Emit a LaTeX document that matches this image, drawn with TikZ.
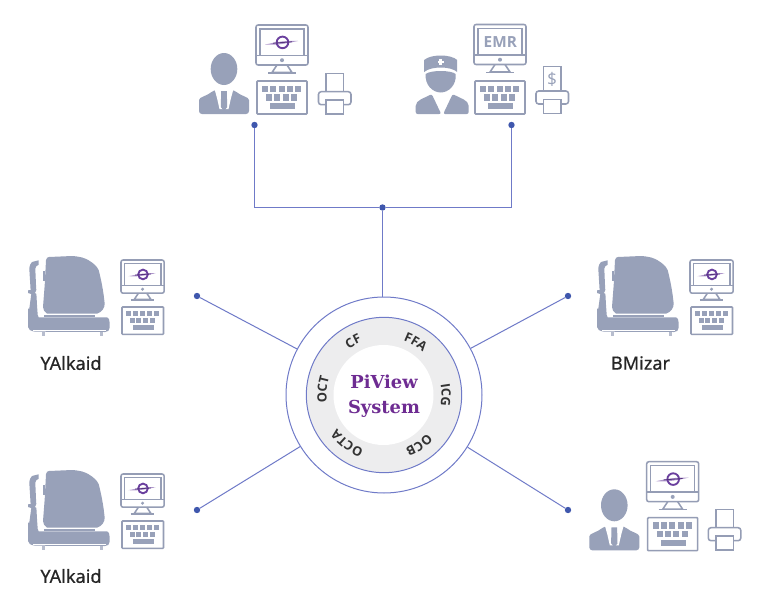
\documentclass[tikz,border=0pt]{standalone}
\usepackage{fontspec}
\usetikzlibrary{decorations.text}
\setmainfont{Noto Sans}
\newfontfamily\titlefont{DejaVu Serif}
\newfontfamily\wedgefont{Open Sans}
\newfontfamily\capfont[FakeBold=0.5]{Noto Sans}
\definecolor{icon}{HTML}{98A1B9}
\definecolor{iconline}{HTML}{959DB5}
\definecolor{wire}{HTML}{6F7AC8}
\definecolor{dotc}{HTML}{3F57AD}
\definecolor{ringfill}{HTML}{EDEDEE}
\definecolor{logoc}{HTML}{6A3F9E}
\definecolor{titlec}{HTML}{6E2C92}
\tikzset{
  wireline/.style={draw=wire,line width=.75pt},
  hubdot/.style={circle,fill=dotc,inner sep=0pt,minimum size=4.8pt},
  iconstroke/.style={draw=iconline,line width=1.15pt},
  caption/.style={font=\capfont\fontsize{13.6}{15}\selectfont,text=black!85,inner sep=0pt},
  hubtitle/.style={font=\titlefont\bfseries\fontsize{13.4}{15}\selectfont,text=titlec,inner sep=0pt},
  hubword/.style={decorate,decoration={text along path,text align=center,text={|\wedgefont\bfseries\fontsize{9.6}{12}\selectfont\color{black!80}|#1}}},
  monitor/.pic={
    \draw[iconstroke,rounded corners=1.6pt] (0,0) rectangle (52,40);
    \draw[iconstroke] (0,30.5) -- (52,30.5);
    \draw[iconstroke] (4,30.5) -- (4,4) -- (48,4) -- (48,30.5);
    \fill[icon] (26,35.2) circle[radius=2];
    \draw[iconstroke] (21,40) -- (16,47.5) -- (36,47.5) -- (31,40);
    \draw[iconstroke] (12,48) -- (40,48);
  },
  eyelogo/.pic={
    \fill[logoc!55] (9,19.5) .. controls (18,18) and (24,15.5) .. (42,16) .. controls (32,17.8) and (24,20.4) .. (9,19.5) -- cycle;
    \draw[logoc,line width=1.4pt] (26.5,17.4) circle[radius=5.8];
    \draw[logoc!80!black,line width=.6pt] (17,18.2) -- (36,16.8);
  },
  keyboard/.pic={
    \draw[iconstroke,rounded corners=.6pt] (0,0) rectangle (50,33);
    \foreach \k in {0,...,4} \fill[icon] (5.2+\k*8.2,4.7) rectangle ++(6,6.4);
    \foreach \k in {0,...,3} \fill[icon] (9.2+\k*8.2,13.3) rectangle ++(6,6.4);
    \fill[icon] (13.3,22) rectangle (38.3,28);
  },
  printer/.pic={
    \draw[iconstroke] (7.5,0) -- (7.5,-#1) -- (25,-#1) -- (25,0);
    \draw[iconstroke,rounded corners=2pt] (7.5,13) -- (0,13) -- (0,0) -- (32.5,0) -- (32.5,13) -- (25,13);
    \draw[iconstroke] (7.5,8.5) rectangle (25,22.5);
  },
  person/.pic={
    \fill[icon] (25,16) ellipse[x radius=13.3,y radius=16];
    \fill[icon,rounded corners=2.2pt] (0,61) -- (0,50) .. controls (0,44) and (8,43) .. (15,37) -- (35,37) .. controls (42,43) and (50,44) .. (50,50) -- (50,61) -- cycle;
    \fill[white] (15.5,36) -- (18,45) -- (20.5,56) -- (29.5,56) -- (32,45) -- (34.5,36) -- cycle;
    \fill[icon] (22.2,38) -- (27.8,38) -- (28.2,54) -- (25,58) -- (21.8,54) -- cycle;
  },
  nurse/.pic={
    \fill[icon] (8.5,5) .. controls (15,-1) and (35,-1) .. (41.5,5) -- (41.5,17) .. controls (35,11) and (15,11) .. (8.5,17) -- cycle;
    \fill[white] (23.7,4) rectangle (26.3,10);
    \fill[white] (22,5.7) rectangle (28,8.3);
    \fill[icon] (10,19) .. controls (15,15) and (35,15) .. (40,19) .. controls (41,30) and (33,37.5) .. (25,37.5) .. controls (17,37.5) and (9,30) .. (10,19) -- cycle;
    \fill[icon,rounded corners=1.5pt] (0,59) -- (0,53) .. controls (0,45) and (9,43) .. (16,39) -- (25.5,59) -- cycle;
    \fill[icon,rounded corners=1.5pt] (53,59) -- (53,53) .. controls (53,45) and (44,43) .. (37,39) -- (27.5,59) -- cycle;
  },
  device/.pic={
    % housing
    \fill[icon] (18,3.3) .. controls (18.3,1) and (19.5,0) .. (21,0) -- (44,-1) .. controls (52,-.5) and (57,1) .. (60.7,3.3) .. controls (65,6) and (69,9) .. (70.7,13.3) .. controls (73,22) and (74.5,30) .. (75.7,38.3) -- (76.7,46.7) .. controls (76.7,51) and (74,55) .. (69,56.7) -- (19,56.7) .. controls (16.5,55) and (15,52.5) .. (15,50) -- (16.7,28) -- cycle;
    \fill[icon] (15,14) rectangle (17,24);
    % neck
    \fill[icon] (15.5,57.6) rectangle (67,60.2);
    % column and base
    \fill[icon] (10.7,3.3) -- (10.7,7.7) .. controls (8.5,8.5) and (7.3,10) .. (7.3,11.7) -- (8,28) -- (8.3,33) -- (7,36) -- (8.4,37) -- (9,48) -- (9.7,58) -- (10.7,60.3) -- (79,60.3) .. controls (80.8,60.8) and (81.5,62.5) .. (81.5,65) -- (81.5,71) .. controls (81.5,73.5) and (80,75) .. (77,75) -- (7.3,74.7) .. controls (2.5,74) and (0,72.5) .. (0,70) -- (0,51.7) -- (1.3,51.7) -- (3.3,37) -- (0,36) -- (0.3,33) -- (2.6,33) -- (2.3,28) -- (1.3,11.7) .. controls (1.5,8) and (3,6) .. (4,5) -- cycle;
    \draw[white,line width=.45pt] (5,73) -- (78,73);
    \fill[icon!70] (13.5,75) rectangle (16.5,78.5);
    \fill[icon!70] (71.5,75) rectangle (74.5,78.5);
  }
}
\begin{document}
\begin{tikzpicture}[x=.75pt,y=-.75pt]
\useasboundingbox (0,0) rectangle (768,607);
\fill[white] (0,0) rectangle (768,607);

% hub
\node[circle,draw=wire,line width=.75pt,fill=white,inner sep=0pt,minimum size=147pt] (hub) at (384,395) {};
\node[circle,draw=wire,line width=.75pt,fill=ringfill,inner sep=0pt,minimum size=116.5pt] (ring) at (384,395) {};
\node[circle,fill=white,inner sep=0pt,minimum size=75pt] (core) at (383.5,395) {};
\node[hubtitle] (title1) at (384,382) {PiView};
\node[hubtitle] (title2) at (384,409) {System};
\begin{scope}[shift={(384,395)},y=.75pt]
  \path[hubword=CF] (150:57.5) arc[start angle=150,end angle=90,radius=57.5];
  \path[hubword=FFA] (89:57.5) arc[start angle=89,end angle=29,radius=57.5];
  \path[hubword=ICG] (30:57.5) arc[start angle=30,end angle=-30,radius=57.5];
  \path[hubword=OCB] (-25:57.5) arc[start angle=-25,end angle=-85,radius=57.5];
  \path[hubword=OCTA] (-92:57.5) arc[start angle=-92,end angle=-163,radius=57.5];
  \path[hubword=OCT] (205:57.5) arc[start angle=205,end angle=145,radius=57.5];
\end{scope}

% connectors
\node[hubdot] (tl) at (254.5,125) {};
\node[hubdot] (tr) at (511.5,125) {};
\node[hubdot] (junc) at (382.5,207.5) {};
\node[hubdot] (ul) at (197,296) {};
\node[hubdot] (ur) at (568,296) {};
\node[hubdot] (ll) at (197,510) {};
\node[hubdot] (lr) at (568,510) {};
\draw[wireline] (tl) |- (junc);
\draw[wireline] (tr) |- (junc);
\draw[wireline] (junc) -- (junc |- hub.north);
\draw[wireline] (ul) -- (hub);
\draw[wireline] (ur) -- (hub);
\draw[wireline] (ll) -- (hub);
\draw[wireline] (lr) -- (hub);

% top left station
\pic (p1) at (199,53) {person};
\pic (m1) at (256,25) {monitor};
\pic (e1) at (256,25) {eyelogo};
\pic (k1) at (257,81) {keyboard};
\pic (r1) at (318.5,91.7) {printer=18};

% top right station
\pic (n2) at (415.7,55) {nurse};
\pic (m2) at (474,24.5) {monitor};
\node[font=\wedgefont\bfseries\fontsize{11.5}{12}\selectfont,text=icon,inner sep=0pt] (emr) at (500.3,42) {EMR};
\pic (k2) at (475,81) {keyboard};
\pic (r2) at (536,91) {printer=24.5};
\node[font=\wedgefont\fontsize{13}{14}\selectfont,text=icon,inner sep=0pt] (usd) at (552.2,79.3) {\$};

% devices
\pic (d1) at (28,257) {device};
\pic[scale=.83] (m3) at (121,260) {monitor};
\pic[scale=.83] (e3) at (121,260) {eyelogo};
\pic[scale=.83] (k3) at (122,307) {keyboard};
\node[caption] (cap1) at (71,363) {YAlkaid};

\pic (d2) at (28,471) {device};
\pic[scale=.83] (m4) at (121,474) {monitor};
\pic[scale=.83] (e4) at (121,474) {eyelogo};
\pic[scale=.83] (k4) at (122,521) {keyboard};
\node[caption] (cap2) at (71,576) {YAlkaid};

\pic (d3) at (597,257) {device};
\pic[scale=.83] (m5) at (690,260) {monitor};
\pic[scale=.83] (e5) at (690,260) {eyelogo};
\pic[scale=.83] (k5) at (691,307) {keyboard};
\node[caption] (cap3) at (640.5,363) {BMizar};

% bottom right station
\pic (p6) at (589.3,489.3) {person};
\pic (m6) at (646.7,461.7) {monitor};
\pic (e6) at (646.7,461.7) {eyelogo};
\pic (k6) at (647.7,517.7) {keyboard};
\pic (r6) at (708.3,527.7) {printer=18};
\end{tikzpicture}
\end{document}
